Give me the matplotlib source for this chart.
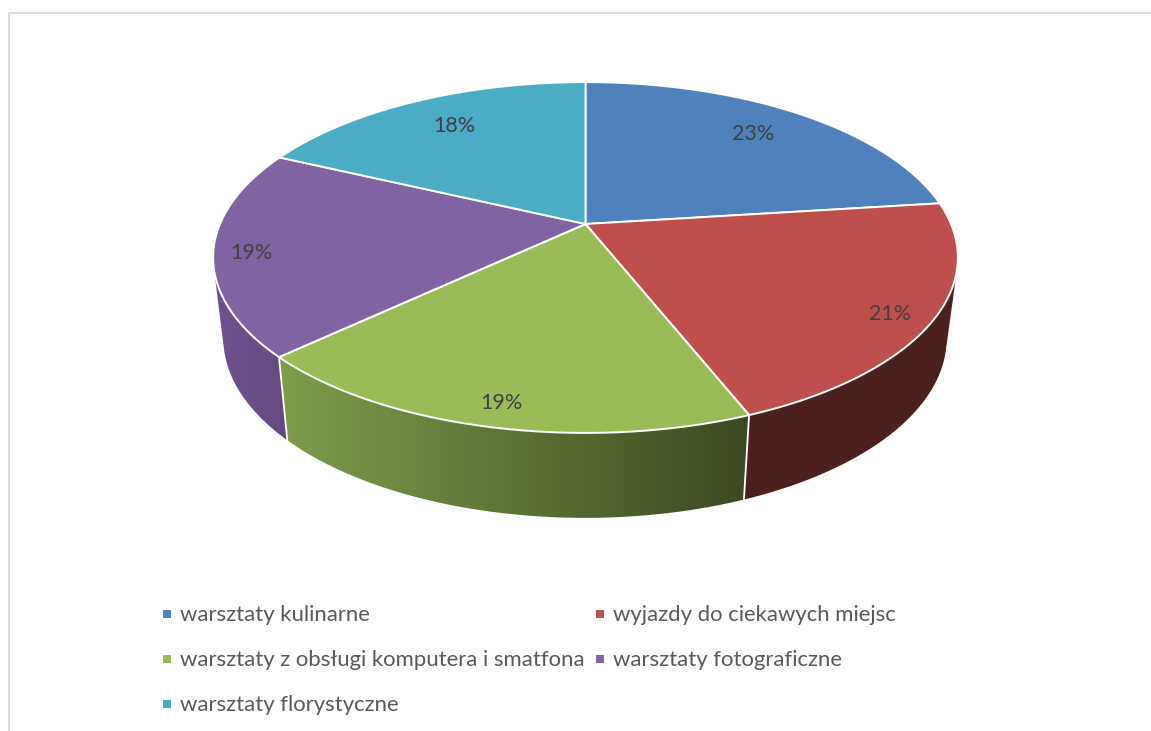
import matplotlib.pyplot as plt
import matplotlib.colors as mcolors
from matplotlib.patches import Polygon, Rectangle
import numpy as np

plt.rcParams['font.family'] = ['Lato', 'DejaVu Sans']

categories = ['warsztaty kulinarne', 'wyjazdy do ciekawych miejsc',
              'warsztaty z obsługi komputera i smatfona', 'warsztaty fotograficzne',
              'warsztaty florystyczne']
values = [23, 21, 19, 19, 18]
top_colors = ['#4f81bd', '#be4f4c', '#9bbb59', '#8064a2', '#4bacc6']
# side colours at the left and right end of each slice
side_colors = [('#2b4566', '#2b4566'), ('#4c201f', '#4c201f'), ('#7f9d4b', '#3c4821'),
               ('#6f5390', '#654a80'), ('#2b6373', '#2b6373')]
label_pos = [(753, 134), (890, 314), (501, 403), (251, 253), (454, 126)]
legend_pos = [(163, 614), (596, 614), (163, 659), (596, 659), (163, 704)]

# perspective of the disc, in pixels
K = 0.191


def project(theta, cx, cy, a, b):
    x, y = np.sin(theta), np.cos(theta)
    w = 1 + K * y
    return cx + a * x / w, cy - b * y / w


def top_edge(theta):
    return project(theta, 585.5, 224, 365.5, 169)


def bottom_edge(theta):
    return project(theta, 585, 304, 355, 173)


def convex_hull(points):
    pts = sorted(set(points))

    def half(seq):
        out = []
        for p in seq:
            while len(out) > 1 and ((out[-1][0] - out[-2][0]) * (p[1] - out[-2][1])
                                    - (out[-1][1] - out[-2][1]) * (p[0] - out[-2][0])) <= 0:
                out.pop()
            out.append(p)
        return out[:-1]

    return half(pts) + half(pts[::-1])


fig = plt.figure(figsize=(11.51, 7.31), dpi=100)
ax = fig.add_axes([0, 0, 1, 1])

# thin frame of the chart area, cut off on the right and at the bottom
ax.plot([9, 9, 1151], [731, 12.5, 12.5], color='#d9d9d9', lw=1.3, zorder=1)

edges = np.cumsum([0] + values) / sum(values) * 2 * np.pi

# side wall: a horizontal gradient clipped to the hull of the two rims of the slice
# the front slice goes last so that its neighbours do not spill over it
for i in [0, 4, 3, 1, 2]:
    theta = np.linspace(edges[i], edges[i + 1], 200)
    xt, yt = top_edge(theta)
    xb, yb = bottom_edge(theta)
    hull = convex_hull(list(zip(xt, yt)) + list(zip(xb, yb)))
    left = np.array(mcolors.to_rgb(side_colors[i][0]))
    right = np.array(mcolors.to_rgb(side_colors[i][1]))
    ramp = np.linspace(left, right, 256).reshape(1, 256, 3)
    x0, x1 = min(xt.min(), xb.min()), max(xt.max(), xb.max())
    y0, y1 = min(yt.min(), yb.min()), max(yt.max(), yb.max())
    im = ax.imshow(ramp, extent=(x0, x1, y1, y0), aspect='auto', zorder=2, interpolation='bilinear')
    im.set_clip_path(Polygon(hull, closed=True, transform=ax.transData))

# white joints on the visible part of the wall
for e in edges[1:-1]:
    xt, yt = top_edge(e)
    xb, yb = bottom_edge(e)
    if yt > 224 and np.cos(e) < 0:
        ax.plot([xt, xb], [yt, yb], color='white', lw=1.3, zorder=3)

# top face
for i in range(len(values)):
    theta = np.linspace(edges[i], edges[i + 1], 200)
    xt, yt = top_edge(theta)
    pts = np.column_stack([np.r_[585.5, xt], np.r_[224, yt]])
    ax.add_patch(Polygon(pts, closed=True, facecolor=top_colors[i], edgecolor='white',
                         lw=1.4, joinstyle='round', zorder=4))
    lx, ly = label_pos[i]
    ax.text(lx, ly, f'{values[i]}%', fontsize=15.5, color='#404040', ha='center', va='center', zorder=5)

# legend
for i, name in enumerate(categories):
    lx, ly = legend_pos[i]
    ax.add_patch(Rectangle((lx, ly - 4), 8, 8, facecolor=top_colors[i], edgecolor='none', zorder=5))
    ax.text(lx + 17, ly + 1, name, fontsize=15.9, color='#595959', ha='left', va='center', zorder=5)

ax.set_xlim(0, 1151)
ax.set_ylim(731, 0)
ax.axis('off')

fig.savefig('out.png', dpi=100)
